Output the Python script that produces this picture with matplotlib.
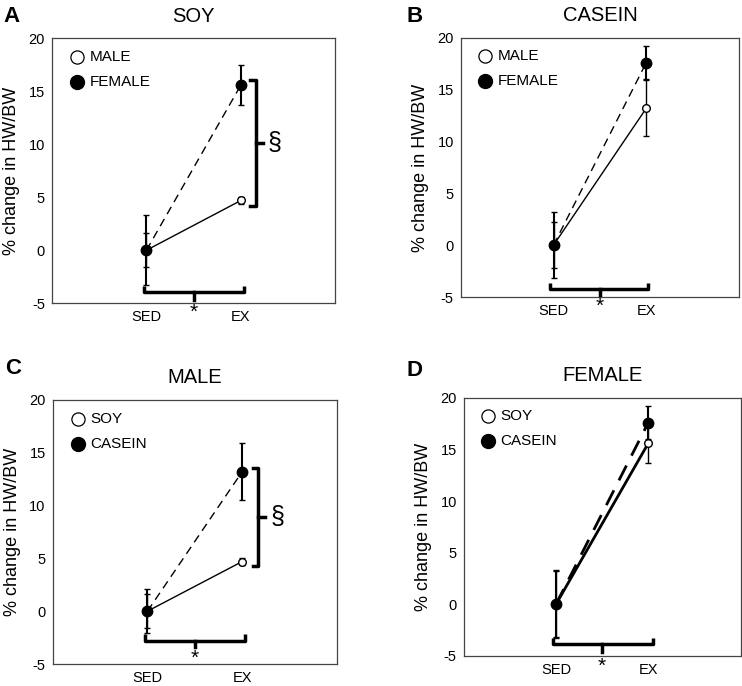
import matplotlib
matplotlib.use("Agg")
import matplotlib.pyplot as plt

plt.rcParams['font.family'] = ['Liberation Sans', 'DejaVu Sans']
plt.rcParams['axes.unicode_minus'] = False

groups = ["SED", "EX"]
x_pos = [1, 2]

# SOY diet, male / female
soy_male = [0.0, 4.7]
soy_male_err = [1.6, 0.3]
soy_female = [0.0, 15.6]
soy_female_err = [3.3, 1.9]

# CASEIN diet, male / female
casein_male = [0.0, 13.2]
casein_male_err = [2.2, 2.7]
casein_female = [0.0, 17.6]
casein_female_err = [3.2, 1.6]

W, H = 742, 686

panels = [
    dict(letter="A", letter_xy=(11, 17), title="SOY", labels=["MALE", "FEMALE"],
         open_y=soy_male, open_err=soy_male_err, fill_y=soy_female, fill_err=soy_female_err,
         rect=[0.070, 0.558, 0.382, 0.386], lw=1.0,
         hbr=(0.97, 2.03, -3.9, -3.4, -4.7), vbr=(2.16, 4.2, 16.1), star_y=-5.0),
    dict(letter="B", letter_xy=(415, 17), title="CASEIN", labels=["MALE", "FEMALE"],
         open_y=casein_male, open_err=casein_male_err, fill_y=casein_female, fill_err=casein_female_err,
         rect=[0.621, 0.567, 0.375, 0.378], lw=1.0,
         hbr=(0.96, 2.02, -4.2, -3.6, -4.8), vbr=None, star_y=-5.0),
    dict(letter="C", letter_xy=(13, 368), title="MALE", labels=["SOY", "CASEIN"],
         open_y=soy_male, open_err=soy_male_err, fill_y=casein_male, fill_err=[2.1, 2.7],
         rect=[0.071, 0.032, 0.383, 0.385], lw=1.0,
         hbr=(0.97, 2.03, -2.8, -2.2, -3.4), vbr=(2.17, 4.3, 13.6), star_y=-3.6),
    dict(letter="D", letter_xy=(415, 370), title="FEMALE", labels=["SOY", "CASEIN"],
         open_y=soy_female, open_err=soy_female_err, fill_y=casein_female, fill_err=casein_female_err,
         rect=[0.625, 0.044, 0.373, 0.376], lw=2.0,
         hbr=(0.97, 2.05, -3.9, -3.3, -4.6), vbr=None, star_y=-5.1),
]

fig = plt.figure(figsize=(W / 100, H / 100), dpi=100)

for p in panels:
    ax = fig.add_axes(p["rect"])
    ax.set_xlim(0, 3)
    ax.set_ylim(-5, 20)
    ax.set_yticks([-5, 0, 5, 10, 15, 20])
    ax.set_xticks(x_pos)
    ax.set_xticklabels(groups)
    ax.tick_params(length=0, labelsize=10.5)
    ax.tick_params(axis="x", pad=5)
    ax.tick_params(axis="y", pad=5)
    for s in ax.spines.values():
        s.set_color("#444444")
        s.set_linewidth(0.9)
    ax.set_ylabel("% change in HW/BW", fontsize=13, labelpad=6)
    ax.set_title(p["title"], fontsize=14.5, pad=12)
    lx, ly = p["letter_xy"]
    fig.text(lx / W, 1 - ly / H, p["letter"], fontsize=16, fontweight="bold",
             ha="center", va="center")

    # open series (solid line) then filled series (dashed line)
    ax.errorbar(x_pos, p["open_y"], yerr=p["open_err"], color="black", lw=p["lw"],
                ls="-", marker="o", ms=5.5, mfc="white", mec="black", mew=1.0,
                ecolor="black", elinewidth=1.0, capsize=2, zorder=3)
    ax.errorbar(x_pos, p["fill_y"], yerr=p["fill_err"], color="black", lw=p["lw"],
                ls=(0, (6, 4)), marker="o", ms=7.5, mfc="black", mec="black",
                ecolor="black", elinewidth=1.5, capsize=2, zorder=4)

    # significance bracket under the groups
    x0, x1, yb, yh, yt = p["hbr"]
    ax.plot([x0, x0, x1, x1], [yh, yb, yb, yh], color="black", lw=2.5,
            solid_capstyle="butt", clip_on=False, zorder=5)
    ax.plot([1.5, 1.5], [yb, yt], color="black", lw=2.5, clip_on=False, zorder=5)
    ax.text(1.5, p["star_y"], "*", fontsize=15, ha="center", va="top")

    # side bracket for the EX difference
    if p["vbr"] is not None:
        xv, y0, y1 = p["vbr"]
        ax.plot([xv - 0.06, xv, xv, xv - 0.06], [y0, y0, y1, y1], color="black",
                lw=2.5, clip_on=False, zorder=5)
        ym = (y0 + y1) / 2
        ax.plot([xv, xv + 0.07], [ym, ym], color="black", lw=2.5, zorder=5)
        ax.text(xv + 0.2, ym, "§", fontsize=18, ha="center", va="center")

    # legend drawn in axes coordinates
    ax.plot([0.088], [0.928], transform=ax.transAxes, ls="none", marker="o", ms=9.5,
            mfc="white", mec="black", mew=0.9)
    ax.plot([0.088], [0.834], transform=ax.transAxes, ls="none", marker="o", ms=10,
            mfc="black", mec="black")
    ax.text(0.132, 0.928, p["labels"][0], transform=ax.transAxes, fontsize=11,
            va="center", ha="left")
    ax.text(0.132, 0.834, p["labels"][1], transform=ax.transAxes, fontsize=11,
            va="center", ha="left")

fig.savefig("out.png", dpi=100)
